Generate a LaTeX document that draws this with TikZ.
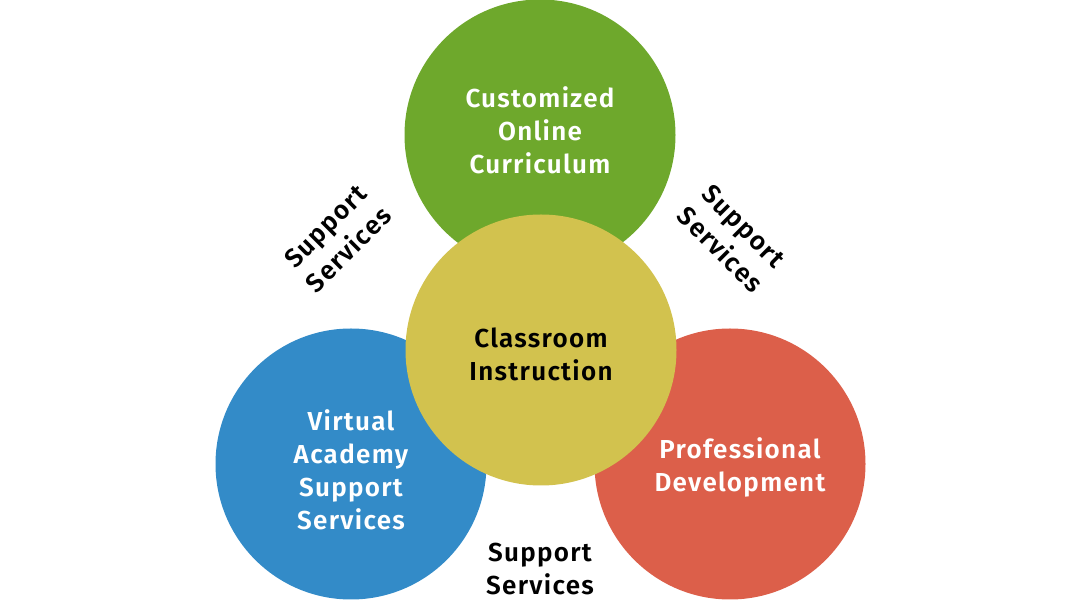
\documentclass[tikz,border=0pt]{standalone}
\usepackage{fontspec}
\setmainfont{Fira Sans SemiBold}[LetterSpace=5]
\definecolor{cgreen}{HTML}{6EA82C}
\definecolor{cyellow}{HTML}{D2C24E}
\definecolor{cblue}{HTML}{338BC8}
\definecolor{cred}{HTML}{DC5F4A}
\begin{document}
\begin{tikzpicture}[x=1pt,y=1pt,
  disc/.style={circle,minimum size=271pt,inner sep=0pt,draw=none},
  wtext/.style={text=white,align=center,font=\fontsize{26}{33}\selectfont},
  btext/.style={text=black,align=center,font=\fontsize{26}{33}\selectfont}]
\useasboundingbox (0,0) rectangle (1080,600);
\node[disc,fill=cgreen] (green) at (540,465) {};
\node[disc,fill=cblue] (blue) at (351,136) {};
\node[disc,fill=cred] (red) at (730,136) {};
\node[disc,fill=cyellow] (yellow) at (541,250) {};
\node[wtext] (tgreen) at (540,470) {Customized\\Online\\Curriculum};
\node[btext] (tyellow) at (541,246) {Classroom\\Instruction};
\node[wtext] (tblue) at (351,130) {Virtual\\Academy\\Support\\Services};
\node[wtext] (tred) at (740,133) {Professional\\Development};
\node[btext] (sbottom) at (540,31) {Support\\Services};
\node[btext,rotate=45] (sleft) at (337,362) {Support\\Services};
\node[btext,rotate=-45] (sright) at (732,362) {Support\\Services};
\end{tikzpicture}
\end{document}
